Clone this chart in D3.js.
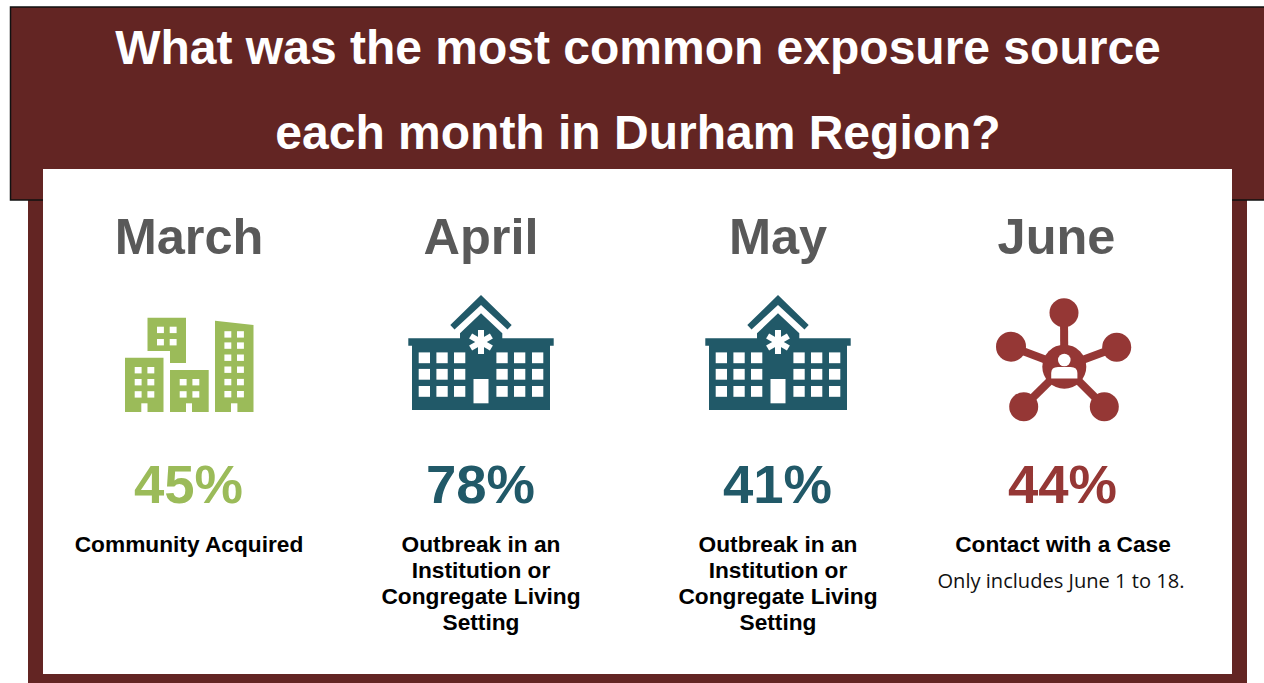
<!DOCTYPE html>
<html>
<head>
<meta charset="utf-8">
<script src="https://cdn.jsdelivr.net/npm/d3@7"></script>
<style>
  html, body { margin: 0; padding: 0; background: #fff; overflow: hidden; }
  svg { display: block; }
  text { font-family: "Liberation Sans", Arial, sans-serif; font-weight: 700; text-anchor: middle; }
</style>
</head>
<body>
<div id="chart"></div>
<script>
// Exposure source figures
const titleLines = ["What was the most common exposure source", "each month in Durham Region?"];
const months = ["March", "April", "May", "June"];
const shares = [45, 78, 41, 44];
const sources = [
  ["Community Acquired"],
  ["Outbreak in an", "Institution or", "Congregate Living", "Setting"],
  ["Outbreak in an", "Institution or", "Congregate Living", "Setting"],
  ["Contact with a Case"]
];
const icons = ["city", "hospital", "hospital", "network"];
const notes = ["", "", "", "Only includes June 1 to 18."];

const maroon = "#632523", ink = "#595959";
const palette = d3.scaleOrdinal()
  .domain(["city", "hospital", "network"])
  .range(["#9BBB59", "#215968", "#953735"]);

const W = 1264, H = 683;
const svg = d3.select("#chart").append("svg").attr("width", W).attr("height", H);

// Column centres are not quite evenly spaced, so ordinal scales hold them
const colX = d3.scaleOrdinal().domain(months).range([189, 481, 778, 1063]);
const headX = d3.scaleOrdinal().domain(months).range([189, 481, 778, 1056.5]);

// Lower frame and white panel
svg.append("rect").attr("x", 28).attr("y", 190).attr("width", 1219).attr("height", 493).attr("fill", maroon);

// Header band with its dark outline
svg.append("rect").attr("x", 10.5).attr("y", 7).attr("width", 1260).attr("height", 193)
  .attr("fill", maroon).attr("stroke", "#111").attr("stroke-width", 1.5);
svg.append("rect").attr("x", 43).attr("y", 169).attr("width", 1189).attr("height", 505).attr("fill", "#fff");

svg.selectAll("text.title").data(titleLines).join("text")
  .attr("class", "title")
  .attr("x", 638).attr("y", (d, i) => 64 + i * 84.5)
  .attr("fill", "#fff").attr("font-size", 48).text(d => d);

const polygon = d3.line().curve(d3.curveLinearClosed);
const white = "#fff";

// Adds a white window for every column/row pair
function windows(g, xs, ys, w, h) {
  xs.forEach(x => ys.forEach(y => {
    g.append("rect").attr("x", x).attr("y", y).attr("width", w).attr("height", h).attr("fill", white);
  }));
}

// Four apartment blocks; coordinates are relative to the column centre
function drawCity(g, c) {
  const block = (pts) => g.append("path").attr("d", polygon(pts)).attr("fill", c);
  block([[-41.5, 317.7], [-3, 317.7], [-3, 363], [-19, 363], [-19, 351], [-41.5, 351]]);
  block([[-64, 357.7], [-25.5, 357.7], [-25.5, 412], [-64, 412]]);
  block([[-19, 370], [19.7, 370], [19.7, 412], [-19, 412]]);
  block([[26, 320.7], [64.5, 325], [64.5, 412], [26, 412]]);
  windows(g, [-32, -19.3], [326.7, 339], 6.9, 6.4);
  windows(g, [-54.3, -41.6], [367, 379, 391.2], 6.9, 6.4);
  windows(g, [-9.3, 3.4], [379, 391.2], 6.9, 6.4);
  windows(g, [35.4, 48], [331.2, 342.4, 354.5, 366.5, 378.9, 391], 6.9, 6.4);
  windows(g, [-47.7], [403.3], 6.2, 8.7);
  windows(g, [-3], [403.3], 6, 8.7);
  windows(g, [42], [403.3], 6.4, 8.7);
}

// Hospital with chevron roof and a white star on the gable
function drawHospital(g, c) {
  const shape = (pts) => g.append("path").attr("d", polygon(pts)).attr("fill", c);
  shape([[0, 295], [30.7, 325], [26.5, 329.5], [0, 305], [-26.5, 329.5], [-30.7, 325]]);
  shape([[0, 313.3], [21.3, 333.3], [21.3, 338.3], [72.7, 338.3], [72.7, 345.7], [69, 345.7], [69, 410],
         [-69, 410], [-69, 345.7], [-72.7, 345.7], [-72.7, 338.3], [-21, 338.3], [-21, 333.3]]);
  const cols = [-62.3, -44.6, -27, 15.4, 33, 51];
  windows(g, cols, [352.4, 368.9, 386], 11.3, 10.8);
  windows(g, [-7.5], [379], 15, 24.3);
  [0, 60, 120].forEach(a => {
    g.append("rect").attr("x", -3).attr("y", 330).attr("width", 6).attr("height", 24)
      .attr("fill", white).attr("transform", `rotate(${a} 0 342)`);
  });
}

// Hub with five satellites and a person at its centre
function drawNetwork(g, c) {
  const hub = [1.3, 366.7];
  const nodes = [[1, 312.7, 14.5], [-52, 346.7, 15], [53.7, 347.3, 14.5], [-39.3, 406.7, 14.5], [41.3, 406.7, 14.5]];
  nodes.forEach(([x, y, r]) => {
    g.append("line").attr("x1", hub[0]).attr("y1", hub[1]).attr("x2", x).attr("y2", y)
      .attr("stroke", c).attr("stroke-width", 8);
    g.append("circle").attr("cx", x).attr("cy", y).attr("r", r).attr("fill", c);
  });
  g.append("circle").attr("cx", hub[0]).attr("cy", hub[1]).attr("r", 22).attr("fill", c);
  g.append("circle").attr("cx", hub[0]).attr("cy", 360).attr("r", 6.3).attr("fill", white);
  g.append("path").attr("fill", white)
    .attr("d", "M-11.8,378.6 L-11.8,373 Q-11.8,367 -5,367 L7.6,367 Q14.4,367 14.4,373 L14.4,378.6 Z");
}

const painters = { city: drawCity, hospital: drawHospital, network: drawNetwork };

// One column per month
const columns = svg.selectAll("g.month").data(months).join("g")
  .attr("class", "month")
  .attr("transform", d => `translate(${colX(d)},0)`);

columns.append("text")
  .attr("x", d => headX(d) - colX(d)).attr("y", 254)
  .attr("font-size", 50.5).attr("fill", ink).text(d => d);

columns.each(function (d, i) {
  const kind = icons[i];
  painters[kind](d3.select(this).append("g"), palette(kind));
});

columns.append("text").attr("y", 503).attr("font-size", 54.5)
  .attr("x", -0.5)
  .attr("fill", (d, i) => palette(icons[i]))
  .text((d, i) => `${shares[i]}%`);

columns.each(function (d, i) {
  d3.select(this).selectAll("text.source").data(sources[i]).join("text")
    .attr("class", "source")
    .attr("y", (s, k) => 552 + k * 26)
    .attr("font-size", 22.7).attr("fill", "#000").text(s => s);
});

columns.filter((d, i) => notes[i]).append("text")
  .attr("y", 588).attr("font-size", 20.1).attr("x", -2).attr("fill", "#111")
  .style("font-family", '"Open Sans", sans-serif').style("font-weight", 400)
  .text(d => notes[months.indexOf(d)]);
</script>
</body>
</html>
